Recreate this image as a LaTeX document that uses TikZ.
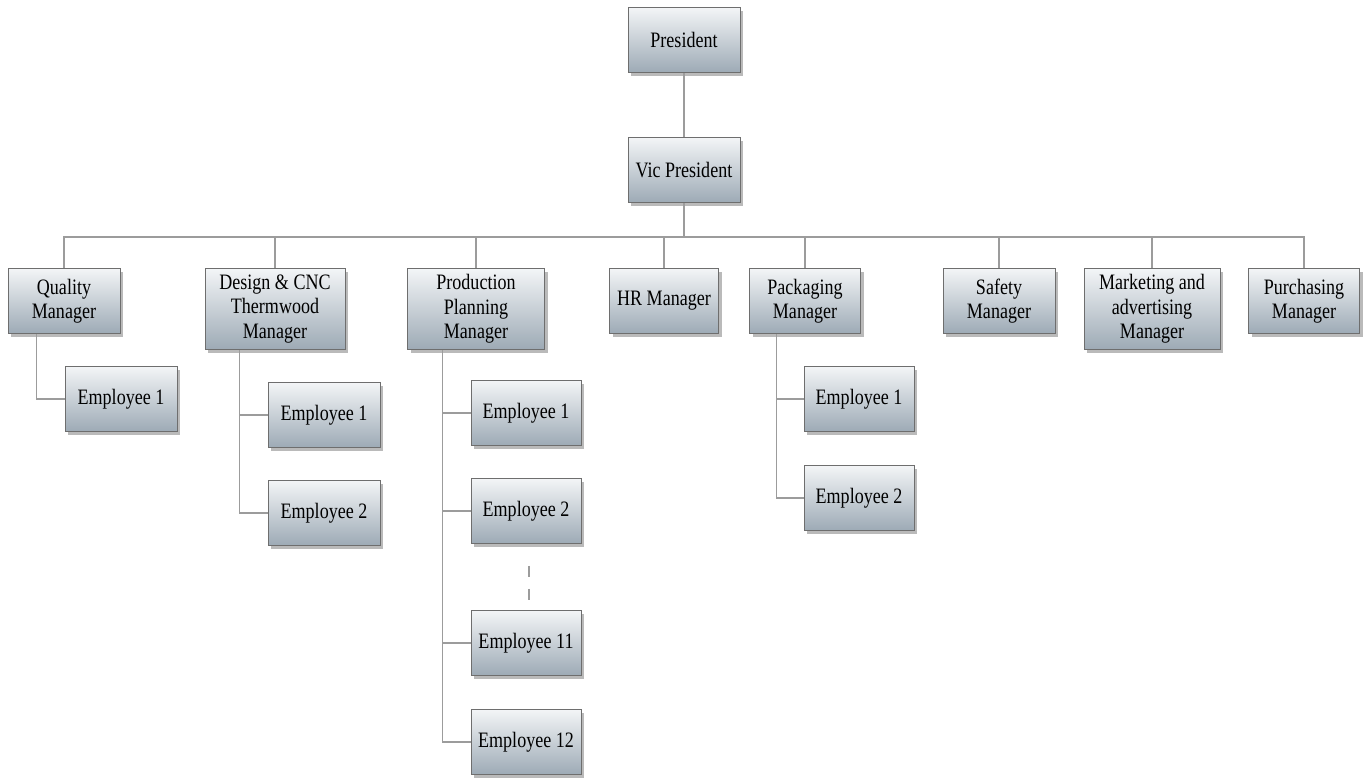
\documentclass[tikz,border=0pt]{standalone}
\usepackage{fontspec}
\setmainfont[FakeStretch=0.82]{Liberation Serif}
\usetikzlibrary{shadows}

\definecolor{boxtop}{HTML}{F3F5F7}
\definecolor{boxbot}{HTML}{9DAAB5}
\definecolor{boxline}{HTML}{6E6E6E}
\definecolor{wire}{HTML}{9C9C9C}

\begin{document}
\begin{tikzpicture}[
        x=1pt, y=-1pt,
        post/.style={draw=boxline, line width=0.8pt, top color=boxtop, bottom color=boxbot,
            minimum width=112, minimum height=65, align=center, inner sep=2pt,
            font=\fontsize{22}{24.5}\selectfont,
            drop shadow={shadow xshift=3pt, shadow yshift=-3pt, fill=black!45, opacity=0.6}},
        tall/.style={post, minimum height=81},
        link/.style={draw=wire, line width=1.6pt}
    ]
    \useasboundingbox (0,0) rectangle (1364,782);

    % top of the chart
    \node[post] (pres) at (684,40) {President};
    \node[post] (vp) at (684,170) {Vic President};

    % managers
    \node[post] (qm) at (64,301) {Quality\\Manager};
    \node[tall, minimum width=140] (dm) at (275,309) {Design \& CNC\\Thermwood\\Manager};
    \node[tall, minimum width=137] (pm) at (476,309) {Production\\Planning\\Manager};
    \node[post, minimum width=109] (hr) at (664,301) {HR Manager};
    \node[post, minimum width=111] (pk) at (805,301) {Packaging\\Manager};
    \node[post] (sf) at (999,301) {Safety\\Manager};
    \node[tall, minimum width=136] (mk) at (1152,309) {Marketing and\\advertising\\Manager};
    \node[post, minimum width=111] (pu) at (1304,301) {Purchasing\\Manager};

    % employees
    \node[post] (q1) at (121,399) {Employee 1};
    \node[post] (d1) at (324,415) {Employee 1};
    \node[post] (d2) at (324,513) {Employee 2};
    \node[post, minimum width=110] (p1) at (526,413) {Employee 1};
    \node[post, minimum width=110] (p2) at (526,511) {Employee 2};
    \node[post, minimum width=110] (p11) at (526,643) {Employee 11};
    \node[post, minimum width=110] (p12) at (526,742) {Employee 12};
    \node[post, minimum width=110] (k1) at (859,399) {Employee 1};
    \node[post, minimum width=110] (k2) at (859,498) {Employee 2};

    % president to the managers
    \coordinate (bus) at (684,237);
    \draw[link] (pres.south) -- (vp.north);
    \draw[link] (vp.south) -- (bus);
    \draw[link] (qm.north) -- (qm |- bus) -- (pu |- bus) -- (pu.north);
    \foreach \m in {dm,pm,hr,pk,sf,mk}
        \draw[link] (\m.north) -- (\m |- bus);

    % managers to their staff
    \draw[link] ([xshift=-28pt]q1.west |- qm.south) |- (q1.west);
    \draw[link] ([xshift=-28pt]d2.west |- dm.south) |- (d2.west);
    \draw[link] ([xshift=-28pt]d1.west) -- (d1.west);
    \draw[link] ([xshift=-28pt]p12.west |- pm.south) |- (p12.west);
    \foreach \e in {p1,p2,p11}
        \draw[link] ([xshift=-28pt]\e.west) -- (\e.west);
    \draw[link] ([xshift=-27pt]k2.west |- pk.south) |- (k2.west);
    \draw[link] ([xshift=-27pt]k1.west) -- (k1.west);

    % skipped employees
    \draw[link, dash pattern=on 11pt off 12pt] ([xshift=3pt, yshift=-22pt]p2.south) -- ++(0,35);
\end{tikzpicture}
\end{document}
